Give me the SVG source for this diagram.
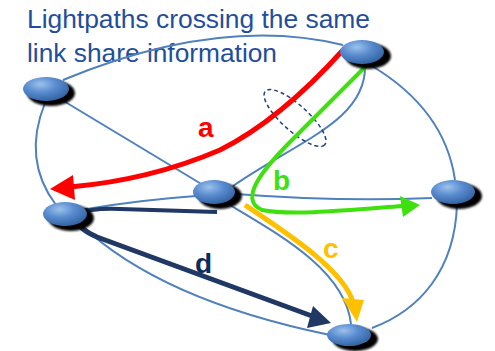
<svg xmlns="http://www.w3.org/2000/svg" width="495" height="351" viewBox="0 0 495 351">
<defs>
<radialGradient id="ng" cx="0.38" cy="0.3" r="0.75">
<stop offset="0" stop-color="#9cc2ec"/>
<stop offset="0.45" stop-color="#5a8cd0"/>
<stop offset="1" stop-color="#2f609f"/>
</radialGradient>
<filter id="blur" x="-20%" y="-30%" width="140%" height="160%"><feGaussianBlur stdDeviation="0.8"/></filter>
<style>
.title{font-family:"Liberation Sans",Arial,sans-serif;font-size:26px;fill:#1f4e9c}
.lbl{font-family:"Liberation Sans",Arial,sans-serif;font-size:28px;font-weight:bold}
.link{fill:none;stroke:#4f81bd;stroke-width:2}
.shadow{fill:#000;filter:url(#blur)}
.node{fill:url(#ng)}
</style>
</defs>
<rect width="495" height="351" fill="#fff"/>
<text class="title" x="27" y="28" textLength="343" lengthAdjust="spacingAndGlyphs">Lightpaths crossing the same</text>
<text class="title" x="27" y="62" textLength="250" lengthAdjust="spacingAndGlyphs">link share information</text>
<g id="connectors">
<path class="link" d="M63,80 Q220,15 343,45"/>
<path class="link" d="M62,100 L203,185"/>
<path class="link" d="M45,103 Q22,160 56,205"/>
<path class="link" d="M372,66 Q445,110 455,180"/>
<path class="link" d="M365,66 C366,120 300,140 233,186"/>
<path class="link" d="M236,194 Q340,202 432,198"/>
<path class="link" d="M196,196 Q140,200 87,209"/>
<path class="link" d="M80,224 Q160,300 330,335"/>
<path class="link" d="M225,202 C280,235 345,270 351,324"/>
<path class="link" d="M457,204 C455,270 420,310 372,328"/>
<ellipse cx="295" cy="118" rx="40" ry="13" transform="rotate(42 295 118)" fill="none" stroke="#1f3f7a" stroke-width="1.5" stroke-dasharray="4 3"/>
<g id="path-a">
<path d="M343,50 Q280,120 220,150 Q150,180 70,187" fill="none" stroke="#ff0000" stroke-width="5"/>
<polygon points="50,189 73,175 75,200" fill="#ff0000"/>
</g>
<g id="path-b">
<path d="M366,66 L292,140 C262,170 238,200 262,210 C290,216 350,210 402,206" fill="none" stroke="#3ee00e" stroke-width="4"/>
<polygon points="420,205 400,196 403,217" fill="#3ee00e"/>
</g>
<g id="path-c">
<path d="M245,205 C290,235 343,270 353,302" fill="none" stroke="#ffc000" stroke-width="5"/>
<polygon points="342,298 364,300 357,322" fill="#ffc000"/>
</g>
<g id="path-d">
<path d="M78,214 Q90,208 120,209 L217,212" fill="none" stroke="#1f3864" stroke-width="4"/>
<path d="M88,210 C72,214 72,226 97,237 L312,316" fill="none" stroke="#1f3864" stroke-width="5"/>
<polygon points="313,306 307,328 331,323" fill="#1f3864"/>
</g>
</g>
<text class="lbl" x="198" y="137" fill="#ff0000">a</text>
<text class="lbl" x="273" y="190" fill="#3ee00e">b</text>
<text class="lbl" x="323" y="258" fill="#ffc000">c</text>
<text class="lbl" x="195" y="273" fill="#0f2a5c">d</text>
<g id="n1"><ellipse class="shadow" cx="368" cy="56" rx="23" ry="13"/><ellipse class="node" cx="362" cy="52" rx="22" ry="12"/></g>
<g id="n2"><ellipse class="shadow" cx="51" cy="93" rx="24" ry="13"/><ellipse class="node" cx="46" cy="89" rx="23" ry="12"/></g>
<g id="n3"><ellipse class="shadow" cx="220" cy="196" rx="22" ry="13"/><ellipse class="node" cx="214" cy="192" rx="21" ry="12"/></g>
<g id="n4"><ellipse class="shadow" cx="71" cy="218" rx="23" ry="13"/><ellipse class="node" cx="65" cy="214" rx="22" ry="12"/></g>
<g id="n5"><ellipse class="shadow" cx="459" cy="196" rx="23" ry="13"/><ellipse class="node" cx="453" cy="192" rx="22" ry="12"/></g>
<g id="n6"><ellipse class="shadow" cx="355" cy="339" rx="23" ry="12"/><ellipse class="node" cx="349" cy="335" rx="22" ry="11"/></g>
</svg>
